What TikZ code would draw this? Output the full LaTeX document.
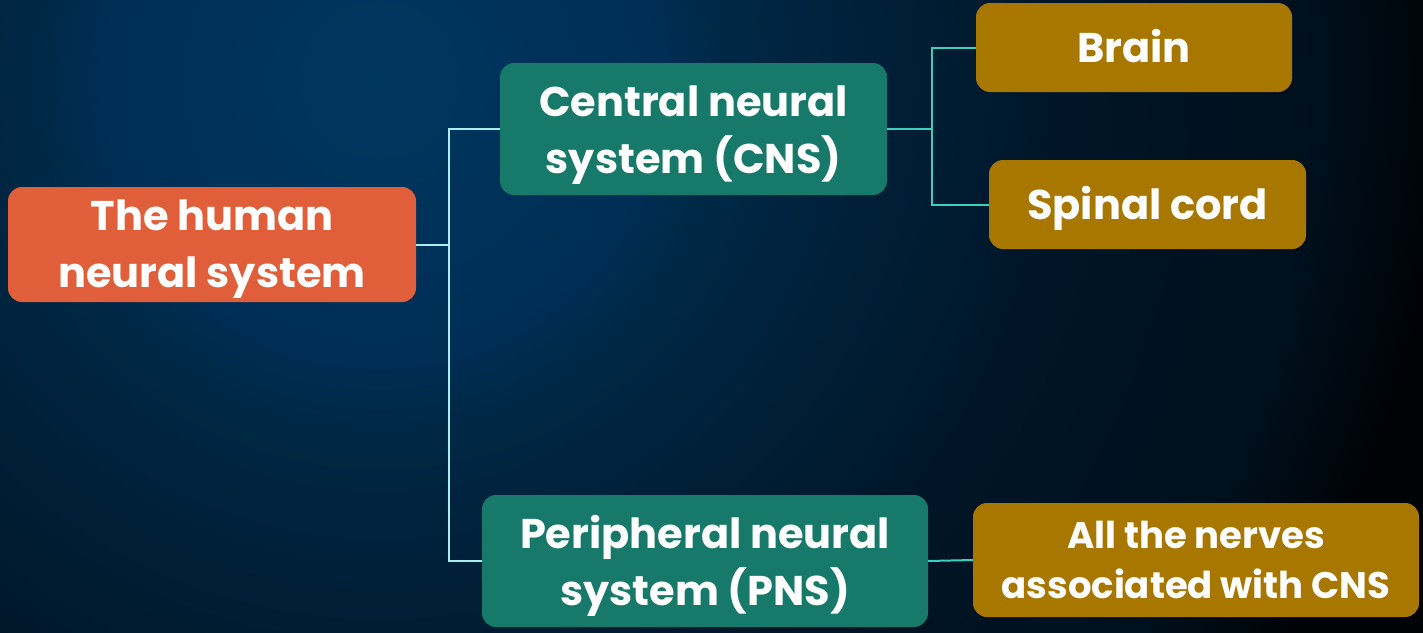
\documentclass[tikz,border=0pt]{standalone}
\usepackage{fontspec}
\setmainfont{Poppins}
\definecolor{sA}{HTML}{00375F}
\definecolor{sB}{HTML}{002E55}
\definecolor{sC}{HTML}{002846}
\definecolor{sD}{HTML}{001628}
\definecolor{sE}{HTML}{000F1C}
\definecolor{sF}{HTML}{000306}
\definecolor{rootc}{HTML}{E05E3A}
\definecolor{tealc}{HTML}{177969}
\definecolor{goldc}{HTML}{A87700}
\definecolor{lineA}{HTML}{A8EEEC}
\definecolor{lineB}{HTML}{3CCFC0}
\tikzset{
  box/.style={rectangle, rounded corners=14pt, text=white, align=center, inner sep=0pt,
    font=\fontsize{41.5}{57}\selectfont\bfseries},
  rootbox/.style={box, fill=rootc},
  tealbox/.style={box, fill=tealc},
  goldbox/.style={box, fill=goldc},
  linkA/.style={draw=lineA, line width=2pt},
  linkB/.style={draw=lineB, line width=2pt},
}
\begin{document}
\begin{tikzpicture}[x=1pt,y=-1pt]
\useasboundingbox (0,0) rectangle (1423,632);
\fill[sF] (-20,-20) rectangle (1443,652);
\begin{scope}
\clip (-10,-10) rectangle (1433,642);
\foreach \ra/\rb/\ca/\cb in {1070/950/sF/sE, 950/680/sE/sD, 680/350/sD/sC, 350/280/sC/sB, 280/0/sB/sA} {
  \pgfmathtruncatemacro\rn{\ra-10}
  \foreach \r in {\ra,\rn,...,\rb} {
    \pgfmathtruncatemacro\p{(\r-\rb)/(\ra-\rb)*100}
    \fill[\ca!\p!\cb] (380,80) circle[radius=\r pt];
  }
}
\end{scope}

\node[rootbox, minimum width=408pt, minimum height=115pt] (root) at (212,244.5) {};
\node[tealbox, minimum width=387pt, minimum height=132pt] (cns) at (693.5,129) {};
\node[tealbox, minimum width=446pt, minimum height=132pt] (pns) at (705,561) {};
\node[goldbox, minimum width=316pt, minimum height=89pt] (brain) at (1134,47.5) {};
\node[goldbox, minimum width=317pt, minimum height=89pt] (spinal) at (1147.5,204.5) {};
\node[goldbox, minimum width=446pt, minimum height=114pt] (nerves) at (1196,560) {};

\node[box, anchor=base] (rootT) at (212,287) {The human\\neural system};
\node[box, anchor=base] (cnsT) at (693.5,173) {Central neural\\system (CNS)};
\node[box, anchor=base] (pnsT) at (705,605) {Peripheral neural\\system (PNS)};
\node[box, anchor=base] (brainT) at (1134,62) {Brain};
\node[box, anchor=base] (spinalT) at (1147.5,219) {Spinal cord};
\node[box, anchor=base, font=\fontsize{37}{50}\selectfont\bfseries] (nervesT) at (1196,598) {All the nerves\\associated with CNS};

\coordinate (j1) at (449,244.5);
\coordinate (j2) at (932,129);
\draw[linkA] (root.east) -- (j1) |- (cns.west);
\draw[linkA] (j1) |- (pns.west);
\draw[linkB] (cns.east) -- (j2) |- (brain.west);
\draw[linkB] (j2) |- (spinal.west);
\draw[linkB] (pns.east) -- (nerves.west);
\end{tikzpicture}
\end{document}
